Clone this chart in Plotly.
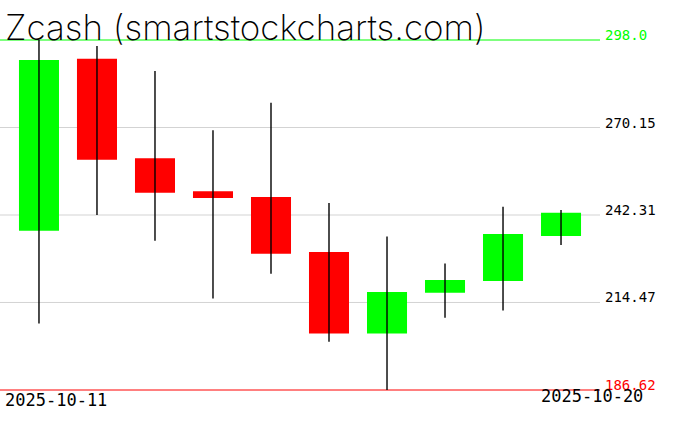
import plotly.graph_objects as go
import pandas as pd

dates = ["2025-10-11", "2025-10-12", "2025-10-13", "2025-10-14", "2025-10-15",
         "2025-10-16", "2025-10-17", "2025-10-18", "2025-10-19", "2025-10-20"]
opens = [237.3, 292.0, 260.4, 249.9, 248.0, 230.5, 204.6, 217.6, 221.3, 235.6]
highs = [298.0, 296.1, 288.1, 269.3, 278.0, 246.1, 235.5, 226.9, 244.9, 243.9]
lows = [207.8, 242.3, 234.1, 215.7, 223.6, 202.0, 186.62, 209.6, 211.9, 232.8]
closes = [291.6, 259.9, 249.4, 247.7, 230.0, 204.6, 217.8, 221.6, 236.3, 243.0]
level_labels = ["298.0", "270.15", "242.31", "214.47", "186.62"]
title_text = "Zcash (smartstockcharts.com)"

W, H = 676, 431
ML, MR, MT, MB = 0, 76, 39, 40
PLOT_W = W - ML - MR
PLOT_H = H - MT - MB

x = pd.to_datetime(dates)
day = pd.Timedelta(days=1)
levels = [float(v) for v in level_labels]
ymax, ymin = max(levels), min(levels)
u = (ymax - ymin) / 350.0  # one pixel in data units

# wicks
wx, wy = [], []
for d, lo, hi in zip(x, lows, highs):
    wx += [d, d, None]
    wy += [lo, hi, None]

fig = go.Figure()
fig.add_trace(go.Scatter(x=wx, y=wy, mode="lines",
                         line=dict(color="black", width=1.4), hoverinfo="skip"))

colors = ["#00ff00" if c >= o else "#ff0000" for o, c in zip(opens, closes)]
fig.add_trace(go.Bar(
    x=x,
    base=[min(o, c) for o, c in zip(opens, closes)],
    y=[abs(c - o) for o, c in zip(opens, closes)],
    width=[0.69 * 86400000] * len(dates),
    marker=dict(color=colors, line=dict(width=0)),
    hoverinfo="skip",
))

line_colors = ["#00ff00", "#d3d3d3", "#d3d3d3", "#d3d3d3", "#ff0000"]
label_colors = ["#00ff00", "black", "black", "black", "#ff0000"]
for v, lab, lc, tc in zip(levels, level_labels, line_colors, label_colors):
    fig.add_shape(type="line", xref="paper", yref="y", x0=0, x1=1, y0=v, y1=v,
                  line=dict(color=lc, width=1), layer="below")
    fig.add_annotation(xref="paper", yref="y", x=603 / PLOT_W, y=v, text=lab,
                       showarrow=False, xanchor="left", yanchor="middle", yshift=5,
                       font=dict(family="DejaVu Sans Mono", size=14, color=tc))

def py(px):
    return 1 + (MT - px) / PLOT_H

fig.add_annotation(xref="paper", yref="paper", x=3 / PLOT_W, y=py(27), text=title_text,
                   showarrow=False, xanchor="left", yanchor="middle",
                   font=dict(family="Inter", size=35, color="black", weight=200))
fig.add_annotation(xref="paper", yref="paper", x=3 / PLOT_W, y=py(400), text=dates[0],
                   showarrow=False, xanchor="left", yanchor="middle",
                   font=dict(family="DejaVu Sans Mono", size=17, color="black"))
fig.add_annotation(xref="paper", yref="paper", x=539 / PLOT_W, y=py(396), text=dates[-1],
                   showarrow=False, xanchor="left", yanchor="middle",
                   font=dict(family="DejaVu Sans Mono", size=17, color="black"))

fig.update_layout(
    width=W, height=H, margin=dict(l=ML, r=MR, t=MT, b=MB),
    paper_bgcolor="white", plot_bgcolor="white", showlegend=False,
    barmode="overlay",
    xaxis=dict(visible=False, range=[x[0] - 0.672 * day, x[-1] + 0.672 * day]),
    yaxis=dict(visible=False, range=[ymin - u, ymax + u]),
)
fig.write_html("out.html", config={"displayModeBar": False},
               post_script="document.body.style.margin='0';")
